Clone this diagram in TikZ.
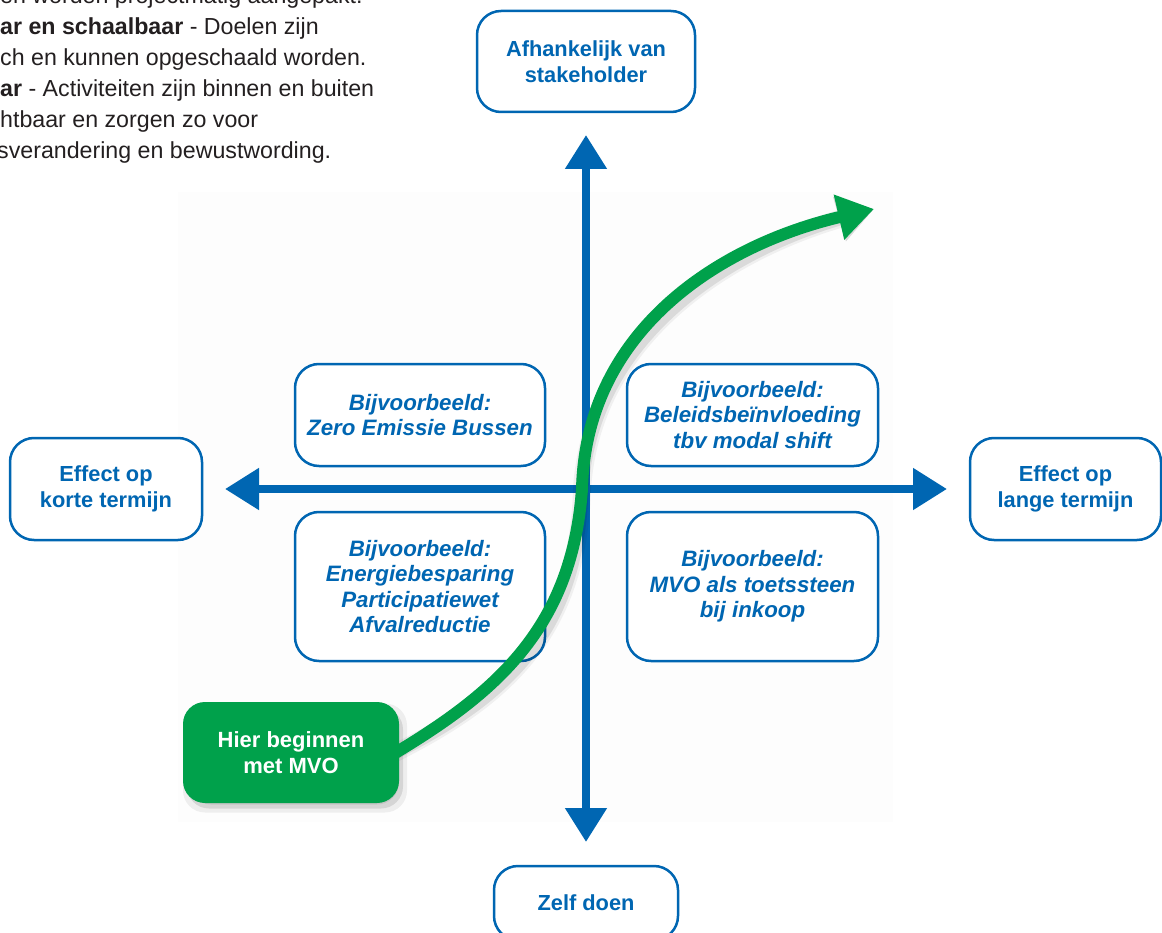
\documentclass[tikz,border=0pt]{standalone}
\usepackage{fontspec}
\setmainfont{Liberation Sans}
\usetikzlibrary{arrows.meta,shadows}
\definecolor{mvoblue}{RGB}{0,102,178}
\definecolor{mvogreen}{RGB}{0,161,75}
\definecolor{bodytext}{RGB}{35,31,32}
\tikzset{
  lbl/.style={draw=mvoblue, line width=2.5pt, rounded corners=24pt, fill=white,
    text=mvoblue, align=center, inner sep=0pt,
    font=\fontsize{21.8}{26}\selectfont\bfseries},
  qbox/.style={lbl, font=\fontsize{22.3}{25.5}\selectfont\bfseries\itshape},
  startbox/.style={fill=mvogreen, rounded corners=22pt, text=white, align=center,
    inner sep=0pt, minimum width=216pt, minimum height=101pt,
    font=\fontsize{22}{25.5}\selectfont\bfseries},
  softshadow/.style={fill=black, rounded corners=22pt, inner sep=0pt,
    minimum width=216pt, minimum height=101pt},
  axisline/.style={draw=mvoblue, line width=8pt,
    {Triangle[length=34pt,width=40pt]}-{Triangle[length=34pt,width=40pt]}},
  pathline/.style={draw=mvogreen, line width=12pt, -{Triangle[length=36pt,width=44pt]}},
  pathshadow/.style={draw=black, line cap=round, -{Triangle[length=36pt,width=44pt]}},
  bodyline/.style={anchor=base west, inner sep=0pt, text=bodytext,
    font=\fontsize{23.2}{31}\selectfont}
}
\begin{document}
\begin{tikzpicture}[x=1pt,y=-1pt]
\useasboundingbox (0,0) rectangle (1162,933);

% faint background panel
\fill[black!0.7] (178,192) rectangle (893,822);

% left text (cut off by the page edge)
\node[bodyline] (t0) at (0,4) {en worden projectmatig aangepakt.};
\node[bodyline] (t1) at (0,35) {\textbf{ar en schaalbaar} - Doelen zijn};
\node[bodyline] (t2) at (0,66) {ch en kunnen opgeschaald worden.};
\node[bodyline] (t3) at (0,97) {\textbf{ar} - Activiteiten zijn binnen en buiten};
\node[bodyline] (t4) at (0,128) {htbaar en zorgen zo voor};
\node[bodyline] (t5) at (-3,159) {sverandering en bewustwording.};

% quadrant boxes
\node[qbox, minimum width=250pt, minimum height=102pt] (tl) at (420,415)
  {Bijvoorbeeld:\\Zero Emissie Bussen};
\node[qbox, minimum width=251pt, minimum height=102pt] (tr) at (752.5,415)
  {Bijvoorbeeld:\\Beleidsbeïnvloeding\\tbv modal shift};
\node[qbox, minimum width=250pt, minimum height=149pt] (bl) at (420,586.5)
  {Bijvoorbeeld:\\Energiebesparing\\Participatiewet\\Afvalreductie};
\node[qbox, minimum width=251pt, minimum height=149pt] (br) at (752.5,586.5)
  {Bijvoorbeeld:\\MVO als toetssteen\\bij inkoop};

% axis labels
\node[lbl, minimum width=218pt, minimum height=101pt] (top) at (586,61.5)
  {Afhankelijk van\\stakeholder};
\node[lbl, minimum width=192pt, minimum height=102pt] (left) at (106,489)
  {Effect op\\korte termijn};
\node[lbl, minimum width=191pt, minimum height=102pt] (right) at (1065.5,489)
  {Effect op\\lange termijn};
\node[lbl, minimum width=184pt, minimum height=74pt] (bottom) at (586,903)
  {Zelf doen};

% axes
\coordinate (axL) at (225,489);
\coordinate (axR) at (947,489);
\coordinate (axT) at (586,135);
\coordinate (axB) at (586,842);
\draw[axisline] (axL) -- (axR);
\draw[axisline] (axB) -- (axT);

% soft shadow of the start box
\node[softshadow, opacity=0.06, minimum width=224pt, minimum height=109pt] (sh1) at (295,758) {};
\node[softshadow, opacity=0.10] (sh2) at (295,758) {};
\node[softshadow, opacity=0.08, minimum width=210pt, minimum height=95pt] (sh3) at (294,757) {};

% green growth curve with soft shadow
\coordinate (cstart) at (396,752.5);
\coordinate (mid) at (582,489);
\coordinate (goal) at (874,209);
\begin{scope}[shift={(6,7)}]
  \draw[pathshadow, line width=18pt, opacity=0.05] (cstart) .. controls (500,690) and (572,625) .. (mid)
     .. controls (586,330) and (720,245) .. (goal);
  \draw[pathshadow, line width=13pt, opacity=0.09] (cstart) .. controls (500,690) and (572,625) .. (mid)
     .. controls (586,330) and (720,245) .. (goal);
\end{scope}
\draw[pathline] (cstart) .. controls (500,690) and (572,625) .. (mid)
   .. controls (586,330) and (720,245) .. (goal);

% start box
\node[startbox] (start) at (291,752.5) {Hier beginnen\\met MVO};
\end{tikzpicture}
\end{document}
